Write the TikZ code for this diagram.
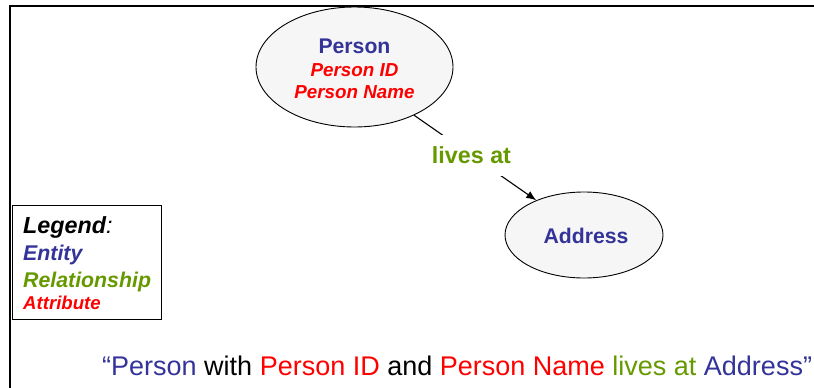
\documentclass[tikz,border=0pt]{standalone}
\usepackage{fontspec}
\setmainfont{Liberation Sans}
\usetikzlibrary{shapes.geometric,arrows.meta}
\definecolor{entityblue}{RGB}{51,51,153}
\definecolor{attrred}{RGB}{255,0,0}
\definecolor{relgreen}{RGB}{102,153,0}
\definecolor{bubblefill}{RGB}{246,246,246}
\begin{document}
\begin{tikzpicture}[x=1pt,y=-1pt,
  bubble/.style={ellipse, draw=black, line width=0.9pt, fill=bubblefill, inner sep=0pt},
  entitytext/.style={anchor=base, text=entityblue, font=\fontsize{21.2}{25}\selectfont\bfseries, inner sep=0pt},
  attrtext/.style={anchor=base, text=attrred, font=\fontsize{18.8}{22}\selectfont\bfseries\itshape, inner sep=0pt},
  reltext/.style={text=relgreen, font=\fontsize{23.3}{27}\selectfont\bfseries, fill=white, inner xsep=0pt, inner ysep=12pt},
  legendtext/.style={anchor=base west, inner sep=0pt, font=\fontsize{21.3}{25}\selectfont\bfseries\itshape},
  link/.style={draw=black, line width=1.1pt}
]
\useasboundingbox (0,0) rectangle (814,388);

% page frame: top and left rules only
\draw[line width=2.5pt] (10,388) -- (10,6) -- (814,6);

% entities
\node[bubble, minimum width=197pt, minimum height=120pt] (person) at (354.5,67) {};
\node[entitytext] (personlbl) at (354.5,53) {Person};
\node[attrtext] (personid) at (354.5,76) {Person ID};
\node[attrtext] (personname) at (354.5,98) {Person Name};

\node[bubble, minimum width=158pt, minimum height=86pt] (address) at (584,235) {};
\node[entitytext] (addresslbl) at (586,243) {Address};

% relationship
\draw[link, -{Latex[length=10pt,width=8pt]}] (person.-39) -- node[reltext, pos=0.47] (livesat) {lives at} (address.144);

% legend
\node[draw=black, line width=0.8pt, minimum width=149pt, minimum height=114pt, inner sep=0pt] (legendbox) at (86.5,262) {};
\node[legendtext, font=\fontsize{23.3}{27}\selectfont\bfseries\itshape] (legendhead) at (23,233) {Legend{\mdseries :}};
\node[legendtext, text=entityblue] (legendentity) at (23,260) {Entity};
\node[legendtext, text=relgreen] (legendrel) at (23,287) {Relationship};
\node[legendtext, text=attrred, font=\fontsize{18.6}{22}\selectfont\bfseries\itshape] (legendattr) at (23,309) {Attribute};

% reading of the diagram
\node[anchor=base west, inner sep=0pt, font=\fontsize{27}{31}\selectfont] (sentence) at (102,375)
  {\textcolor{entityblue}{“Person} with \textcolor{attrred}{Person ID} and \textcolor{attrred}{Person Name} \textcolor{relgreen}{lives at} \textcolor{entityblue}{Address”}};
\end{tikzpicture}
\end{document}
